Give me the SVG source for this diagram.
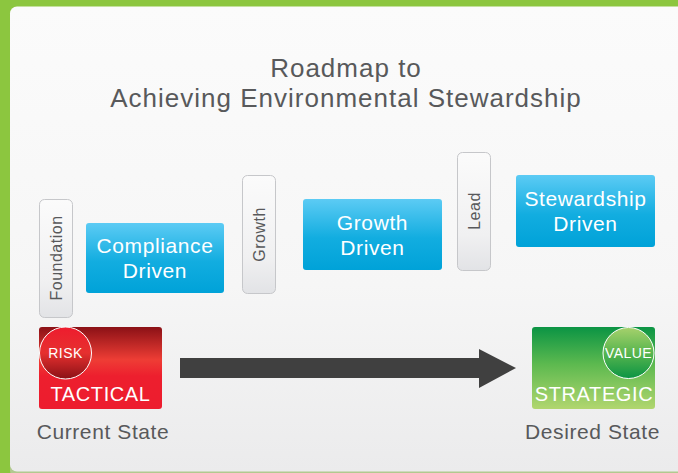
<svg xmlns="http://www.w3.org/2000/svg" width="678" height="473" viewBox="0 0 678 473">
<defs>
  <linearGradient id="panel" x1="0" y1="0" x2="0" y2="1">
    <stop offset="0" stop-color="#fbfbfb"/>
    <stop offset="0.6" stop-color="#f6f6f6"/>
    <stop offset="1" stop-color="#ebebec"/>
  </linearGradient>
  <linearGradient id="blue" x1="0" y1="0" x2="0" y2="1">
    <stop offset="0" stop-color="#5ccbf4"/>
    <stop offset="0.55" stop-color="#12ade0"/>
    <stop offset="1" stop-color="#00a2d8"/>
  </linearGradient>
  <linearGradient id="gray" x1="0" y1="0" x2="0" y2="1">
    <stop offset="0" stop-color="#fbfbfb"/>
    <stop offset="0.7" stop-color="#f0f0f1"/>
    <stop offset="1" stop-color="#e2e3e6"/>
  </linearGradient>
  <linearGradient id="red" x1="0" y1="0" x2="0" y2="1">
    <stop offset="0" stop-color="#8b1116"/>
    <stop offset="0.4" stop-color="#ee3d35"/>
    <stop offset="0.6" stop-color="#ed1f2e"/>
    <stop offset="1" stop-color="#ed1c2e"/>
  </linearGradient>
  <linearGradient id="redc" x1="0" y1="0" x2="0" y2="1">
    <stop offset="0" stop-color="#ee1c2e"/>
    <stop offset="0.5" stop-color="#e6302f"/>
    <stop offset="1" stop-color="#8b1116"/>
  </linearGradient>
  <linearGradient id="green" x1="0" y1="0" x2="0" y2="1">
    <stop offset="0" stop-color="#0b9444"/>
    <stop offset="0.45" stop-color="#5cb94f"/>
    <stop offset="1" stop-color="#b1d66f"/>
  </linearGradient>
  <linearGradient id="greenc" x1="0" y1="0" x2="0" y2="1">
    <stop offset="0" stop-color="#a6d16c"/>
    <stop offset="0.5" stop-color="#58b54e"/>
    <stop offset="1" stop-color="#0b9444"/>
  </linearGradient>
  <style>
    text { font-family: "Liberation Sans", Arial, Helvetica, sans-serif; }
    .title { font-size: 26px; fill: #58595b; letter-spacing: 1px; text-anchor: middle; }
    .blue { fill: url(#blue); }
    .btxt { font-size: 21px; fill: #ffffff; letter-spacing: 0.6px; text-anchor: middle; }
    .gray { fill: url(#gray); stroke: #c6c7ca; stroke-width: 1; }
    .vtxt { font-size: 16px; fill: #58595b; letter-spacing: 0.5px; text-anchor: middle; }
    .ring { stroke: #ffffff; stroke-width: 1; }
    .ctxt { font-size: 14px; fill: #ffffff; letter-spacing: 0.4px; text-anchor: middle; }
    .stxt { font-size: 20px; fill: #ffffff; letter-spacing: 0.6px; text-anchor: middle; }
    .state { font-size: 21px; fill: #58595b; letter-spacing: 0.6px; text-anchor: middle; }
  </style>
</defs>
<rect x="0" y="0" width="678" height="473" fill="#8cc63f"/>
<rect x="10" y="7.5" width="700" height="470" rx="7" fill="#c9cbc4" opacity="0.6"/>
<rect x="10" y="6.5" width="700" height="465" rx="7" fill="url(#panel)"/>

<g id="title">
  <text class="title" x="346" y="77">Roadmap to</text>
  <text class="title" x="346" y="107">Achieving Environmental Stewardship</text>
</g>

<g id="foundation">
  <rect class="gray" x="39.5" y="199.5" width="33" height="118" rx="5"/>
  <text class="vtxt" transform="translate(61.5,258) rotate(-90)">Foundation</text>
</g>
<g id="compliance">
  <rect class="blue" x="86" y="223" width="138" height="70" rx="3"/>
  <text class="btxt" x="155" y="253">Compliance</text>
  <text class="btxt" x="155" y="278">Driven</text>
</g>
<g id="growth">
  <rect class="gray" x="242.5" y="175.5" width="33" height="118" rx="5"/>
  <text class="vtxt" transform="translate(264.5,234.5) rotate(-90)">Growth</text>
</g>
<g id="growth-driven">
  <rect class="blue" x="303" y="199" width="139" height="71" rx="3"/>
  <text class="btxt" x="372.5" y="230">Growth</text>
  <text class="btxt" x="372.5" y="255">Driven</text>
</g>
<g id="lead">
  <rect class="gray" x="457.5" y="152.5" width="33" height="118" rx="5"/>
  <text class="vtxt" transform="translate(479.5,211) rotate(-90)">Lead</text>
</g>
<g id="stewardship">
  <rect class="blue" x="516" y="175" width="139" height="72" rx="3"/>
  <text class="btxt" x="585.5" y="206">Stewardship</text>
  <text class="btxt" x="585.5" y="231">Driven</text>
</g>

<g id="tactical">
  <rect x="39" y="327" width="123" height="82" rx="3" fill="url(#red)"/>
  <circle class="ring" cx="65.5" cy="353" r="26" fill="url(#redc)"/>
  <text class="ctxt" x="65.5" y="358">RISK</text>
  <text class="stxt" x="100.5" y="401">TACTICAL</text>
  <text class="state" x="103" y="439">Current State</text>
</g>

<g id="strategic">
  <rect x="532" y="327" width="123" height="82" rx="3" fill="url(#green)"/>
  <circle class="ring" cx="628.5" cy="353" r="25.5" fill="url(#greenc)"/>
  <text class="ctxt" x="628.5" y="358">VALUE</text>
  <text class="stxt" x="594" y="401">STRATEGIC</text>
  <text class="state" x="592.5" y="439">Desired State</text>
</g>

<g id="connectors">
  <polygon points="180,358 479,358 479,349 516,368 479,388 479,378 180,378" fill="#404040"/>
</g>
</svg>
